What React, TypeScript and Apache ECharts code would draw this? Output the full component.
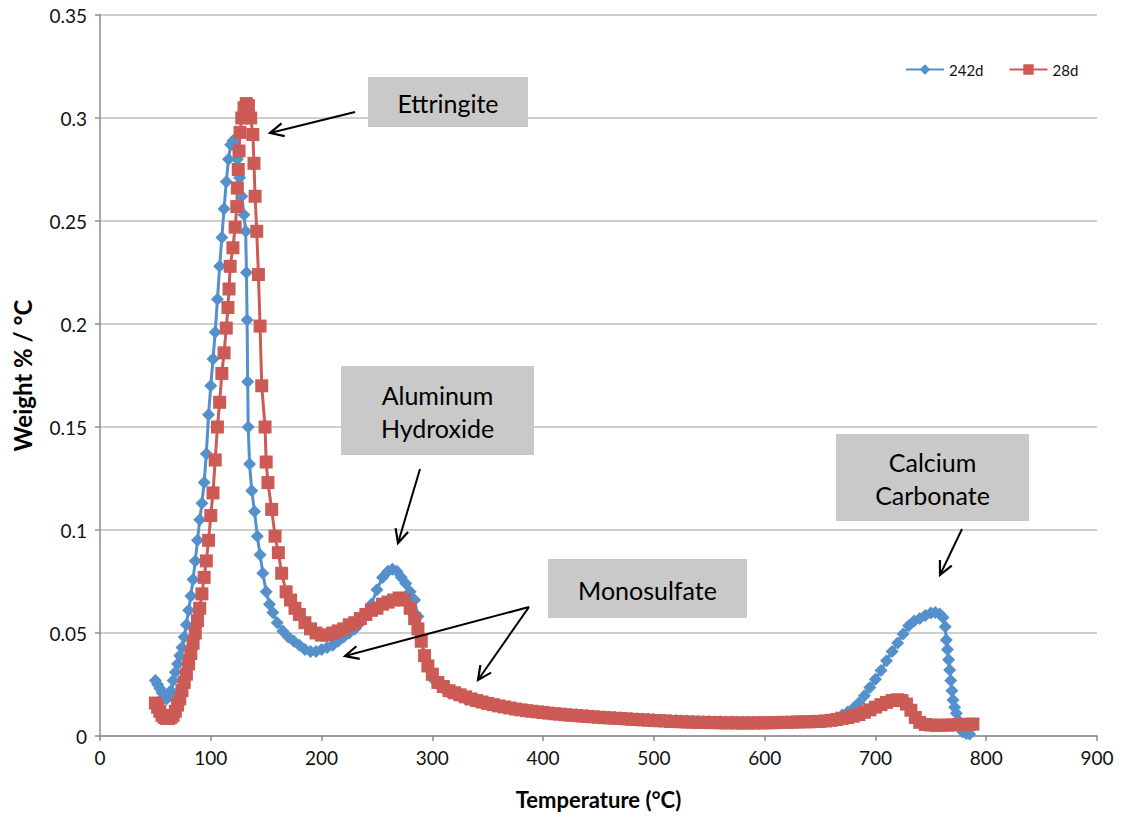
import React, { useEffect, useRef } from 'react';
import * as echarts from 'echarts';

// ---------- DATA ----------
const seriesNames = ['242d', '28d'];
const xTicks = [0, 100, 200, 300, 400, 500, 600, 700, 800, 900];

// 242d : start of the curve (50 – 300 °C)
const temps242Head = [50,52,54,56,58,60,62,64,66,68,70,72,74,76,78,80,82,84,86,88,90,92,94,96,98,100,102,104,106,108,110,112,114,116,118,120,122,124,126,128,130,131.5,132.2,132.8,133.3,133.8,135,137,139.5,142,144.5,147,150,153,156,160,165,170,175,180,185,190,195,200,205,210,215,220,225,230,235,240,245,250,255,260,264,268,272,276,280,284,287,290,293,296,300];
const values242Head = [0.027,0.025,0.023,0.021,0.019,0.018,0.019,0.022,0.027,0.031,0.035,0.039,0.043,0.048,0.054,0.061,0.068,0.076,0.085,0.095,0.105,0.113,0.123,0.137,0.156,0.170,0.183,0.196,0.212,0.228,0.242,0.256,0.269,0.280,0.287,0.289,0.286,0.280,0.271,0.262,0.253,0.245,0.225,0.202,0.172,0.150,0.132,0.119,0.109,0.097,0.088,0.079,0.070,0.064,0.060,0.055,0.051,0.048,0.046,0.044,0.042,0.041,0.041,0.042,0.043,0.044,0.046,0.048,0.050,0.052,0.055,0.059,0.064,0.071,0.077,0.080,0.081,0.080,0.077,0.074,0.070,0.066,0.058,0.047,0.039,0.033,0.028];

// 28d : start of the curve (50 – 300 °C)
const temps28Head = [50,52,54,56,58,60,62,64,66,68,70,72,74,76,78,80,82,84,86,88,90,92,94,96,98,100,102,104,106,108,110,112,114,115.5,116.5,117.5,120,122,123.5,124,124.8,125.5,126.4,128,130,132,134,136,138,139,140,141.5,143,144.5,146,149,150,151.6,155,158,161,164,168,172,176,180,185,190,195,200,205,210,215,220,225,230,235,240,245,250,255,260,265,270,275,280,284,287,290,293,296,300];
const values28Head = [0.016,0.014,0.012,0.010,0.009,0.0085,0.0085,0.009,0.010,0.012,0.015,0.018,0.022,0.026,0.030,0.035,0.040,0.045,0.050,0.056,0.062,0.069,0.077,0.085,0.095,0.107,0.118,0.134,0.150,0.162,0.176,0.186,0.198,0.208,0.217,0.228,0.237,0.247,0.257,0.266,0.275,0.284,0.293,0.300,0.305,0.307,0.306,0.300,0.292,0.278,0.262,0.245,0.224,0.199,0.170,0.150,0.133,0.123,0.110,0.097,0.089,0.079,0.070,0.066,0.062,0.059,0.055,0.052,0.050,0.049,0.049,0.050,0.051,0.052,0.054,0.055,0.057,0.059,0.061,0.062,0.064,0.065,0.066,0.067,0.066,0.062,0.057,0.052,0.046,0.039,0.034,0.030];

// middle section, both samples (305 – 660 °C)
const tempsMid = [305,310,315,320,325,330,335,340,345,350,355,360,365,370,375,380,385,390,395,400,405,410,415,420,425,430,435,440,445,450,455,460,465,470,475,480,485,490,495,500,505,510,515,520,525,530,535,540,545,550,555,560,565,570,575,580,585,590,595,600,605,610,615,620,625,630,635,640,645,650,655,660];
const values242Mid = [0.025,0.023,0.021,0.020,0.019,0.018,0.0172,0.0165,0.0158,0.0152,0.0147,0.0142,0.0138,0.0134,0.0130,0.0127,0.0124,0.0121,0.0118,0.0116,0.0113,0.0111,0.0109,0.0107,0.0105,0.0103,0.0101,0.0099,0.0097,0.0095,0.0093,0.0092,0.0090,0.0088,0.0087,0.0085,0.0084,0.0082,0.0081,0.0080,0.0078,0.0077,0.0076,0.0075,0.0074,0.0073,0.0072,0.0071,0.0070,0.0070,0.0069,0.0069,0.0068,0.0068,0.0068,0.0067,0.0067,0.0067,0.0067,0.0067,0.0067,0.0067,0.0068,0.0068,0.0068,0.0069,0.0069,0.0070,0.0071,0.0072,0.0074,0.0078];
const values28Mid = [0.026,0.024,0.022,0.021,0.020,0.019,0.018,0.0172,0.0165,0.0158,0.0152,0.0146,0.0141,0.0136,0.0131,0.0127,0.0123,0.0120,0.0117,0.0114,0.0111,0.0108,0.0106,0.0103,0.0101,0.0099,0.0097,0.0095,0.0093,0.0091,0.0089,0.0088,0.0086,0.0085,0.0083,0.0081,0.0080,0.0078,0.0077,0.0075,0.0074,0.0073,0.0071,0.0070,0.0069,0.0068,0.0067,0.0066,0.0066,0.0065,0.0065,0.0064,0.0064,0.0064,0.0063,0.0063,0.0063,0.0063,0.0064,0.0064,0.0064,0.0065,0.0066,0.0066,0.0067,0.0068,0.0069,0.0069,0.0070,0.0071,0.0073,0.0076];

// 242d : end of the curve (665 – 785 °C)
const temps242End = [665,670,675,680,685,690,695,700,705,710,715,720,725,730,735,740,745,750,754,758,761,763,764,765,766,767,768,769,770,771.5,773,775,777,779,782,785];
const values242End = [0.0090,0.0102,0.0116,0.0135,0.0160,0.0195,0.0235,0.0275,0.0318,0.0365,0.0410,0.0452,0.0495,0.0535,0.0558,0.0570,0.0585,0.0597,0.0600,0.0592,0.0575,0.0530,0.0466,0.0420,0.0370,0.0320,0.0270,0.0220,0.0175,0.0140,0.0110,0.0075,0.0045,0.0020,0.0012,0.0010];

// 28d : end of the curve (665 – 788 °C)
const temps28End = [665,670,675,680,685,690,695,700,705,710,715,720,724,728,732,736,740,745,750,755,760,765,770,775,780,785,788];
const values28End = [0.0080,0.0085,0.0090,0.0096,0.0104,0.0115,0.0127,0.0140,0.0152,0.0163,0.0172,0.0176,0.0172,0.0155,0.0125,0.0090,0.0066,0.0056,0.0053,0.0052,0.0052,0.0053,0.0054,0.0055,0.0056,0.0057,0.0058];

// annotation call-outs
const calloutTexts = [['Ettringite'], ['Aluminum', 'Hydroxide'], ['Monosulfate'], ['Calcium', 'Carbonate']];

// ---------- STYLE / LAYOUT ----------
const BLUE = '#5490CB';
const RED = '#CB5B54';
const FONT = 'Lato, "Open Sans", sans-serif';
const BOX_FILL = '#C9C9C9';

const calloutBoxes = [
  [368, 77, 160, 50],
  [341, 366, 193, 89],
  [548, 559, 199, 59],
  [836, 434, 193, 87],
];
const calloutArrows = [
  [[[355, 112], [270, 133]]],
  [[[420, 469], [398, 543]]],
  [[[529, 607], [345, 656]], [[529, 607], [478, 680]]],
  [[[962, 529], [940, 575]]],
];

const zip = (t: number[], v: number[]) => t.map((x, i) => [x, v[i]]);

function arrowGraphics(from: number[], to: number[]) {
  const dx = to[0] - from[0];
  const dy = to[1] - from[1];
  const len = Math.sqrt(dx * dx + dy * dy);
  const ux = dx / len, uy = dy / len;
  const headLen = 15, spread = 0.45;
  const rot = (a: number) => [
    to[0] - headLen * (ux * Math.cos(a) - uy * Math.sin(a)),
    to[1] - headLen * (ux * Math.sin(a) + uy * Math.cos(a)),
  ];
  return [
    { type: 'line', z: 102, shape: { x1: from[0], y1: from[1], x2: to[0], y2: to[1] }, style: { stroke: '#000', lineWidth: 2 } },
    { type: 'polyline', z: 102, shape: { points: [rot(spread), to, rot(-spread)] }, style: { stroke: '#000', lineWidth: 2.2, fill: null, lineJoin: 'miter' } },
  ];
}

export default function App() {
  const ref = useRef<HTMLDivElement>(null);
  useEffect(() => {
    const chart = echarts.init(ref.current!, null, { renderer: 'svg' });
    const graphic: any[] = [];
    calloutTexts.forEach((lines, i) => {
      const [x, y, w, h] = calloutBoxes[i];
      graphic.push({ type: 'rect', z: 100, shape: { x, y, width: w, height: h }, style: { fill: BOX_FILL } });
      graphic.push({
        type: 'text', z: 101, x: x + w / 2, y: y + h / 2 + 1,
        style: { text: lines.join('\n'), align: 'center', verticalAlign: 'middle', fontSize: 25, lineHeight: 33, fontFamily: FONT, fill: '#000' },
      });
      calloutArrows[i].forEach(([a, b]) => graphic.push(...arrowGraphics(a, b)));
    });

    const data242 = [...zip(temps242Head, values242Head), ...zip(tempsMid, values242Mid), ...zip(temps242End, values242End)];
    const data28 = [...zip(temps28Head, values28Head), ...zip(tempsMid, values28Mid), ...zip(temps28End, values28End)];

    chart.setOption({
      animation: false,
      backgroundColor: '#fff',
      textStyle: { fontFamily: FONT },
      grid: { left: 100, right: 25, top: 15, bottom: 81, containLabel: false },
      legend: {
        data: seriesNames,
        left: 900, top: 57,
        itemWidth: 38, itemHeight: 13, itemGap: 25,
        textStyle: { fontSize: 15, color: '#111', fontFamily: FONT },
      },
      xAxis: {
        type: 'value', min: xTicks[0], max: xTicks[xTicks.length - 1], interval: 100,
        name: 'Temperature (°C)', nameLocation: 'middle', nameGap: 52,
        nameTextStyle: { fontSize: 22, fontWeight: 'bold', color: '#000', fontFamily: FONT },
        axisLine: { show: true, lineStyle: { color: '#8C8C8C', width: 1.5 } },
        axisTick: { show: true, length: 5, lineStyle: { color: '#8C8C8C', width: 1.5 } },
        axisLabel: { fontSize: 19, color: '#111', margin: 12, fontFamily: FONT },
        splitLine: { show: false },
      },
      yAxis: {
        type: 'value', min: 0, max: 0.35, interval: 0.05,
        name: 'Weight % / °C', nameLocation: 'middle', nameGap: 66,
        nameTextStyle: { fontSize: 24, fontWeight: 'bold', color: '#000', fontFamily: FONT },
        axisLine: { show: true, lineStyle: { color: '#8C8C8C', width: 1.5 } },
        axisTick: { show: true, length: 5, lineStyle: { color: '#8C8C8C', width: 1.5 } },
        axisLabel: { fontSize: 19, color: '#111', margin: 13, fontFamily: FONT },
        splitLine: { show: true, lineStyle: { color: '#CFCFCF', width: 2 } },
      },
      series: [
        {
          name: seriesNames[0], type: 'line', data: data242,
          symbol: 'diamond', symbolSize: 13, showAllSymbol: true,
          lineStyle: { color: BLUE, width: 3 }, itemStyle: { color: BLUE },
          emphasis: { disabled: true },
        },
        {
          name: seriesNames[1], type: 'line', data: data28,
          symbol: 'rect', symbolSize: 13, showAllSymbol: true,
          lineStyle: { color: RED, width: 3 }, itemStyle: { color: RED },
          emphasis: { disabled: true },
        },
      ],
      graphic,
    });
    return () => chart.dispose();
  }, []);
  return <div ref={ref} style={{ position: 'absolute', left: 0, top: 0, width: 1122, height: 817 }} />;
}
